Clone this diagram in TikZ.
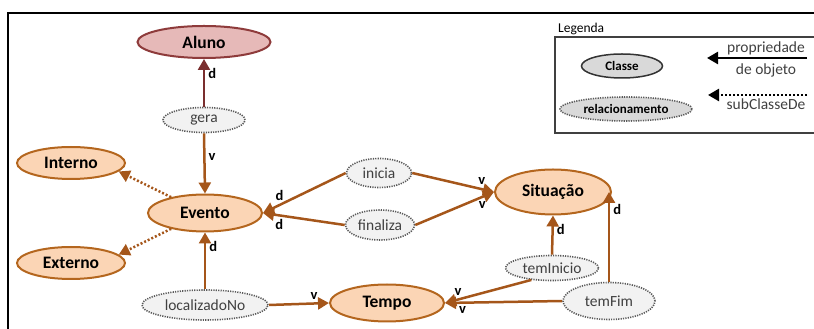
\documentclass[tikz,border=0pt]{standalone}
\usepackage{fontspec}
\setmainfont{Carlito}
\usepackage{tikz}
\usetikzlibrary{shapes.geometric, arrows.meta, positioning}

\definecolor{classfill}{HTML}{FBD5B5}
\definecolor{classline}{HTML}{B4661E}
\definecolor{edgecol}{HTML}{A5561A}
\definecolor{alunofill}{HTML}{E6B9B8}
\definecolor{alunoline}{HTML}{8E3B3B}
\definecolor{alunoedge}{HTML}{7A2E2E}
\definecolor{relfill}{HTML}{F2F2F2}
\definecolor{relline}{HTML}{595959}
\definecolor{legfill}{HTML}{D9D9D9}
\definecolor{textgray}{HTML}{404040}

\tikzset{
    classe/.style={ellipse, draw=classline, fill=classfill, line width=2pt, inner sep=0pt,
        font=\bfseries\fontsize{17.5}{17.5}\selectfont},
    relac/.style={ellipse, draw=relline, fill=relfill, line width=1.6pt,
        dash pattern=on 1.2pt off 1.2pt, inner sep=0pt, text=textgray,
        font=\fontsize{15.5}{15.5}\selectfont},
    lig/.style={color=edgecol, line width=2.5pt,
        -{Triangle[length=11pt,width=12pt]}},
    rot/.style={text=black, font=\bfseries\fontsize{14.5}{14.5}\selectfont, inner sep=3pt},
    legtxt/.style={text=textgray, inner sep=0pt, font=\fontsize{15.5}{15.5}\selectfont},
}

\begin{document}
\begin{tikzpicture}[x=1pt,y=1pt]
    \useasboundingbox (0,0) rectangle (814,329);
    \draw[line width=2.5pt] (8,0) |- (814,316);

    % classes
    \node[classe, fill=alunofill, draw=alunoline, minimum width=133pt, minimum height=32pt] (aluno) at (204,287) {Aluno};
    \node[classe, minimum width=114pt, minimum height=37pt] (evento) at (205,116) {Evento};
    \node[classe, minimum width=108pt, minimum height=32pt] (interno) at (71,166) {Interno};
    \node[classe, minimum width=108pt, minimum height=32pt] (externo) at (71,66) {Externo};
    \node[classe, minimum width=116pt, minimum height=45pt] (situacao) at (553,137) {Situação};
    \node[classe, minimum width=114pt, minimum height=37pt] (tempo) at (387,26) {Tempo};

    % relacionamentos
    \node[relac, minimum width=82pt, minimum height=25pt] (gera) at (204,209) {gera};
    \node[relac, minimum width=65pt, minimum height=29pt] (inicia) at (379,156) {inicia};
    \node[relac, minimum width=69pt, minimum height=30pt] (finaliza) at (380,104) {finaliza};
    \node[relac, minimum width=126pt, minimum height=30pt] (localizado) at (205,24) {localizadoNo};
    \node[relac, minimum width=93pt, minimum height=25pt] (teminicio) at (552,61) {temInicio};
    \node[relac, minimum width=92pt, minimum height=37pt] (temfim) at (609,28) {temFim};

    \path[lig]
        (gera.north) edge[alunoedge] node[rot, pos=0.7, right] {d} (aluno.south)
        (gera.south) edge node[rot, pos=0.4, right] {v} (evento.north)
        (localizado.north) edge node[rot, pos=0.75, right] {d} (evento.south)
        (localizado.east) edge node[rot, pos=0.75, above] {v} (tempo.west)
        (inicia.west) edge node[rot, pos=0.8, above] {d} (evento.east)
        (finaliza.west) edge node[rot, pos=0.8, below] {d} (evento.east)
        (inicia.east) edge node[rot, pos=0.85, above] {v} (situacao.west)
        (finaliza.east) edge node[rot, pos=0.85, below] {v} (situacao.west)
        (teminicio.north) edge node[rot, pos=0.65, right] {d} (situacao.south)
        (temfim.north) edge node[rot, pos=0.8, right] {d} (temfim.north |- situacao.east)
        (teminicio.-150) edge node[rot, pos=0.85, above] {v} (tempo.east)
        (temfim.west) edge node[rot, pos=0.85, below] {v} (tempo.east);
    \path[lig, dash pattern=on 2pt off 2pt]
        (evento.155) edge (interno.-10)
        (evento.-155) edge (externo.10);

    % legenda
    \draw[line width=1.2pt, draw=textgray] (814,196) -| (555,292) -- (814,292);
    \node[anchor=south west, inner sep=1pt, font=\fontsize{13.5}{13.5}\selectfont] (legenda) at (557,293) {Legenda};
    \node[classe, fill=legfill, draw=black!80, line width=1.5pt, minimum width=81pt, minimum height=24pt,
        font=\bfseries\fontsize{13}{13}\selectfont] (lclasse) at (622,263) {Classe};
    \node[relac, fill=legfill, minimum width=132pt, minimum height=24pt, text=black,
        font=\bfseries\fontsize{13}{13}\selectfont] (lrel) at (626,220) {relacionamento};
    \coordinate (pa) at (807,271);
    \coordinate (pb) at (707,271);
    \coordinate (sa) at (807,234);
    \coordinate (sb) at (708,234);
    \draw[lig, black] (pa) -- (pb);
    \draw[lig, black, dash pattern=on 2pt off 2pt] (sa) -- (sb);
    \node[legtxt] (lprop) at (766,281) {propriedade};
    \node[legtxt] (lobj) at (766,259) {de objeto};
    \node[legtxt] (lsub) at (766,225) {subClasseDe};
\end{tikzpicture}
\end{document}
